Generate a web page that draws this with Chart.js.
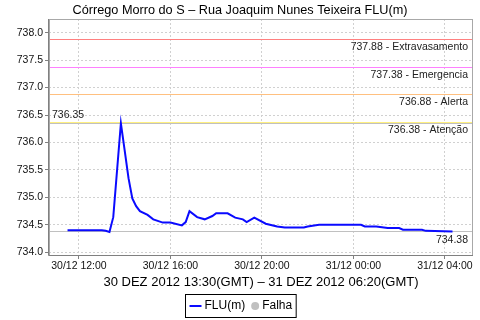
<!DOCTYPE html>
<html>
<head>
<meta charset="utf-8">
<script src="https://cdn.jsdelivr.net/npm/chart.js@4/dist/chart.umd.min.js"></script>
<style>
  html, body { margin: 0; padding: 0; background: #fff; }
  canvas { display: block; }
</style>
</head>
<body>
<canvas id="chart" width="480" height="320"></canvas>
<script>
// hours counted from 30/12 00:00 local time (GMT-2)
const times = [
  11.5, 13.0, 13.1667, 13.3333, 13.5, 13.8333, 14.0, 14.1667, 14.3333, 14.5,
  14.6667, 15.0, 15.25, 15.6667, 16.0, 16.5, 16.6667, 16.8333, 17.1667, 17.5,
  17.8333, 18.0, 18.5, 18.8333, 19.1667, 19.3333, 19.6667, 20.1667, 20.6667, 21.0,
  21.8333, 22.0, 22.5, 24.3333, 24.5, 25.0, 25.5, 26.0, 26.1667, 27.0,
  27.1667, 28.3333
];
const levels = [
  734.40, 734.40, 734.39, 734.37, 734.64, 736.35, 735.85, 735.35, 734.98, 734.84,
  734.75, 734.68, 734.60, 734.54, 734.54, 734.49, 734.55, 734.75, 734.64, 734.60,
  734.66, 734.71, 734.71, 734.63, 734.60, 734.55, 734.63, 734.52, 734.47, 734.45,
  734.45, 734.47, 734.50, 734.50, 734.47, 734.47, 734.44, 734.44, 734.41, 734.41,
  734.39, 734.38
];

const xTickValues = [12, 16, 20, 24, 28];
const xTickLabels = ['30/12 12:00', '30/12 16:00', '30/12 20:00', '31/12 00:00', '31/12 04:00'];
const yTickValues = [734.0, 734.5, 735.0, 735.5, 736.0, 736.5, 737.0, 737.5, 738.0];

const thresholdValues = [737.88, 737.38, 736.88, 736.38];
const thresholdNames = ['Extravasamento', 'Emergencia', 'Alerta', 'Atenção'];
const thresholdColors = ['#ff8080', '#ff80ff', '#ffc080', '#fff080'];

const maxLevel = 736.35;
const minLevel = 734.38;

const chartTitle = 'Córrego Morro do S – Rua Joaquim Nunes Teixeira FLU(m)';
const periodText = '30 DEZ 2012 13:30(GMT) – 31 DEZ 2012 06:20(GMT)';

const FONT = '"Liberation Sans", Arial, sans-serif';

// linhas de referência, rótulos, título e legenda desenhados à mão
const extrasPlugin = {
  id: 'extras',
  beforeDatasetsDraw(chart) {
    const { ctx, chartArea: a, scales: { y } } = chart;
    ctx.save();
    ctx.lineWidth = 1;
    ctx.font = '10.5px ' + FONT;
    ctx.textAlign = 'right';
    ctx.textBaseline = 'middle';
    // máximo e mínimo
    [maxLevel, minLevel].forEach(v => {
      const py = Math.round(y.getPixelForValue(v)) + 0.5;
      ctx.strokeStyle = '#c0c0c0';
      ctx.beginPath(); ctx.moveTo(a.left, py); ctx.lineTo(a.right, py); ctx.stroke();
    });
    thresholdValues.forEach((v, i) => {
      const py = Math.round(y.getPixelForValue(v)) + 0.5;
      ctx.strokeStyle = thresholdColors[i];
      ctx.beginPath(); ctx.moveTo(a.left, py); ctx.lineTo(a.right, py); ctx.stroke();
      ctx.fillStyle = '#222';
      ctx.fillText(v.toFixed(2) + ' - ' + thresholdNames[i], a.right - 5, py + 8);
    });
    ctx.fillStyle = '#222';
    ctx.textAlign = 'left';
    ctx.fillText(maxLevel.toFixed(2), a.left + 3, y.getPixelForValue(maxLevel) - 8);
    ctx.textAlign = 'right';
    ctx.fillText(minLevel.toFixed(2), a.right - 5, y.getPixelForValue(minLevel) + 9);
    ctx.restore();
  },
  afterDraw(chart) {
    const { ctx, chartArea: a } = chart;
    ctx.save();
    // contorno do gráfico
    ctx.strokeStyle = '#a8a8a8';
    ctx.lineWidth = 1;
    ctx.strokeRect(a.left + 0.5, a.top + 0.5, a.right - a.left - 1, a.bottom - a.top);
    ctx.strokeStyle = '#808080';
    ctx.beginPath();
    ctx.moveTo(a.left - 0.5, a.top); ctx.lineTo(a.left - 0.5, a.bottom + 0.5);
    ctx.lineTo(a.right, a.bottom + 0.5);
    ctx.stroke();

    ctx.fillStyle = '#000';
    ctx.textAlign = 'center';
    ctx.textBaseline = 'middle';
    ctx.font = '12.7px ' + FONT;
    ctx.fillText(chartTitle, 240, 10);
    ctx.font = '13px ' + FONT;
    ctx.fillText(periodText, (a.left + a.right) / 2, 282);

    // legenda
    const ds = chart.data.datasets;
    ctx.font = '12px ' + FONT;
    ctx.textAlign = 'left';
    const w0 = ctx.measureText(ds[0].label).width;
    const w1 = ctx.measureText(ds[1].label).width;
    const boxW = 4 + 12 + 3 + w0 + 6 + 8 + 3 + w1 + 4;
    const bx = Math.round(240 - boxW / 2) + 0.5, by = 294.5, bh = 23;
    ctx.strokeStyle = '#000';
    ctx.strokeRect(bx, by, boxW, bh);
    const cy = by + bh / 2;
    let x = bx + 4;
    ctx.strokeStyle = ds[0].borderColor;
    ctx.lineWidth = 2;
    ctx.beginPath(); ctx.moveTo(x, cy); ctx.lineTo(x + 12, cy); ctx.stroke();
    x += 15;
    ctx.fillStyle = '#000';
    ctx.fillText(ds[0].label, x, cy);
    x += w0 + 6;
    ctx.fillStyle = ds[1].backgroundColor;
    ctx.beginPath(); ctx.arc(x + 4, cy, 4, 0, Math.PI * 2); ctx.fill();
    x += 11;
    ctx.fillStyle = '#000';
    ctx.fillText(ds[1].label, x, cy);
    ctx.restore();
  }
};

new Chart(document.getElementById('chart'), {
  type: 'line',
  data: {
    datasets: [
      {
        label: 'FLU(m)',
        data: times.map((t, i) => ({ x: t, y: levels[i] })),
        borderColor: '#0a0aff',
        backgroundColor: '#0a0aff',
        borderWidth: 2,
        pointRadius: 0,
        tension: 0
      },
      {
        label: 'Falha',
        data: [],
        borderColor: '#c0c0c0',
        backgroundColor: '#c0c0c0',
        pointRadius: 4
      }
    ]
  },
  options: {
    responsive: false,
    animation: false,
    layout: { padding: { top: 19, right: 7, left: 0, bottom: 0 } },
    plugins: { legend: { display: false }, tooltip: { enabled: false } },
    scales: {
      x: {
        type: 'linear',
        min: 10.69,
        max: 29.23,
        afterBuildTicks: s => { s.ticks = xTickValues.map(v => ({ value: v })); },
        afterFit: s => { s.height = 65; },
        ticks: {
          autoSkip: false,
          maxRotation: 0,
          padding: 1,
          color: '#111',
          font: { family: FONT, size: 10.5 },
          callback: (v) => xTickLabels[xTickValues.indexOf(v)]
        },
        grid: { color: '#d0d0d0', tickLength: 4, tickColor: '#808080' },
        border: { display: false, dash: [2, 2] }
      },
      y: {
        min: 733.95,
        max: 738.25,
        afterBuildTicks: s => { s.ticks = yTickValues.map(v => ({ value: v })); },
        afterFit: s => { s.width = 49; },
        ticks: {
          padding: 2,
          color: '#111',
          font: { family: FONT, size: 10.5 },
          callback: v => Number(v).toFixed(1)
        },
        grid: { color: '#d0d0d0', tickLength: 4, tickColor: '#808080' },
        border: { display: false, dash: [2, 2] }
      }
    }
  },
  plugins: [extrasPlugin]
});
</script>
</body>
</html>
